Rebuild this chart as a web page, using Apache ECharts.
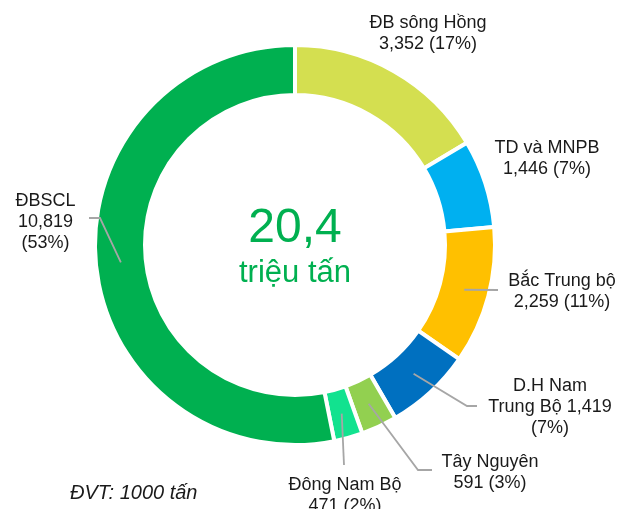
<!DOCTYPE html>
<html>
<head>
<meta charset="utf-8">
<script src="https://cdn.jsdelivr.net/npm/echarts@6/dist/echarts.min.js"></script>
<style>
html,body{margin:0;padding:0;background:#fff;}
#chart{width:632px;height:509px;}
</style>
</head>
<body>
<div id="chart"></div>
<script>
// ---- data ----
var regions = ["ĐB sông Hồng", "TD và MNPB", "Bắc Trung bộ", "D.H Nam Trung Bộ", "Tây Nguyên", "Đông Nam Bộ", "ĐBSCL"];
var values = [3352, 1446, 2259, 1419, 591, 471, 10819];
var labelNames = ["ĐB sông Hồng", "TD và MNPB", "Bắc Trung bộ", "D.H Nam\nTrung Bộ", "Tây Nguyên", "Đông Nam Bộ", "ĐBSCL"];
var centerUnit = "triệu tấn";
var unitNote = "ĐVT: 1000 tấn";

// ---- styling / layout ----
var colors = ["#D4DF50", "#00B0F0", "#FFC000", "#0070C0", "#92D050", "#12E28F", "#00B050"];
var valueSep = ["\n", "\n", "\n", " ", "\n", "\n", "\n"];
var pctSep = [" ", " ", " ", "\n", " ", " ", "\n"];
var showLine = [false, false, true, true, true, true, true];
var labelCenter = [[428, 33.5], [547, 159], [562, 292], [550, 407], [490, 472.5], [345, 495.5], [45.5, 222]];
var lineMid = [null, null, null, [467, 406], [418, 470], null, [100, 218]];
var lineEnd = [null, null, [498, 290], [477, 406], [432, 470], [344, 465], [89, 218]];

var font = "'Liberation Sans', Arial, sans-serif";
var total = values.reduce(function (a, b) { return a + b; }, 0);

var ringData = regions.map(function (n, i) {
  return { name: n, value: values[i], itemStyle: { color: colors[i] } };
});
var labelData = regions.map(function (n, i) {
  return { name: n, value: values[i], labelLine: { show: showLine[i] } };
});

var chart = echarts.init(document.getElementById('chart'), null, { renderer: 'canvas' });
chart.setOption({
  backgroundColor: '#ffffff',
  animation: false,
  series: [
    {
      type: 'pie',
      center: [295, 245],
      radius: [150, 200],
      startAngle: 90,
      clockwise: true,
      silent: true,
      label: { show: false },
      labelLine: { show: false },
      itemStyle: { borderColor: '#ffffff', borderWidth: 4 },
      data: ringData
    },
    {
      type: 'pie',
      center: [295, 245],
      radius: [0, 175],
      startAngle: 90,
      clockwise: true,
      silent: true,
      z: 5,
      percentPrecision: 0,
      avoidLabelOverlap: false,
      itemStyle: { color: 'rgba(0,0,0,0)', borderWidth: 0 },
      emphasis: { disabled: true },
      label: {
        show: true,
        position: 'outside',
        fontFamily: font,
        fontSize: 18,
        lineHeight: 21,
        color: '#1a1a1a',
        align: 'center',
        formatter: function (p) {
          var i = p.dataIndex;
          return labelNames[i] + valueSep[i] + p.value.toLocaleString('en-US') + pctSep[i] + '(' + p.percent + '%)';
        }
      },
      labelLine: {
        show: true,
        length: 10,
        length2: 10,
        lineStyle: { color: '#A6A6A6', width: 1.8 }
      },
      labelLayout: function (params) {
        var i = params.dataIndex;
        var res = {
          x: labelCenter[i][0],
          y: labelCenter[i][1],
          align: 'center',
          verticalAlign: 'middle'
        };
        if (showLine[i] && params.labelLinePoints && params.labelLinePoints.length) {
          var pts = [params.labelLinePoints[0]];
          if (lineMid[i]) pts.push(lineMid[i]);
          pts.push(lineEnd[i]);
          res.labelLinePoints = pts;
        }
        return res;
      },
      data: labelData
    }
  ],
  graphic: [
    {
      type: 'text',
      x: 295, y: 229,
      style: {
        text: (total / 1000).toFixed(1).replace('.', ','),
        fontFamily: font, fontSize: 48, fill: '#00B050',
        align: 'center', verticalAlign: 'middle'
      }
    },
    {
      type: 'text',
      x: 295, y: 273,
      style: {
        text: centerUnit,
        fontFamily: font, fontSize: 31, fill: '#00B050',
        align: 'center', verticalAlign: 'middle'
      }
    },
    {
      type: 'text',
      x: 70, y: 493,
      style: {
        text: unitNote,
        fontFamily: font, fontSize: 20, fontStyle: 'italic', fill: '#1a1a1a',
        align: 'left', verticalAlign: 'middle'
      }
    }
  ]
});
</script>
</body>
</html>
